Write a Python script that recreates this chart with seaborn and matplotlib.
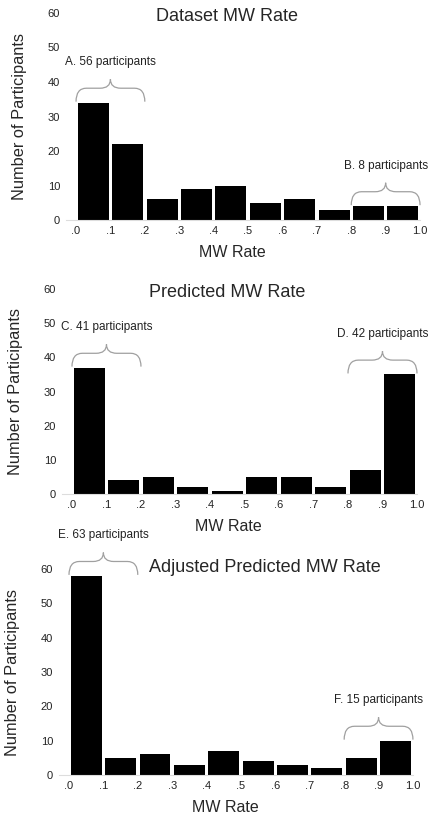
import numpy as np
import matplotlib
matplotlib.use("Agg")
import matplotlib.pyplot as plt
from matplotlib.path import Path
from matplotlib.patches import PathPatch
import seaborn as sns

# MW rate bins (midpoints) and edges
rate_bins = [0.05, 0.15, 0.25, 0.35, 0.45, 0.55, 0.65, 0.75, 0.85, 0.95]
bin_edges = [0.0, 0.1, 0.2, 0.3, 0.4, 0.5, 0.6, 0.7, 0.8, 0.9, 1.0]
tick_labels = [".0", ".1", ".2", ".3", ".4", ".5", ".6", ".7", ".8", ".9", "1.0"]

# number of participants per bin
dataset_counts = [34, 22, 6, 9, 10, 5, 6, 3, 4, 4]
predicted_counts = [37, 4, 5, 2, 1, 5, 5, 2, 7, 35]
adjusted_counts = [58, 5, 6, 3, 7, 4, 3, 2, 5, 10]

titles = ["Dataset MW Rate", "Predicted MW Rate", "Adjusted Predicted MW Rate"]
brace_letters = [("A", "B"), ("C", "D"), ("E", "F")]

sns.set_style("white")
plt.rcParams["font.family"] = ["Liberation Sans", "DejaVu Sans"]

fig = plt.figure(figsize=(4.34, 8.17), dpi=100)
axes_pos = [
    [0.1514, 0.7307, 0.8164, 0.2534],
    [0.1420, 0.3953, 0.8188, 0.2509],
    [0.1352, 0.0514, 0.8163, 0.2521],
]
title_pos = [(0.44, 59), (0.45, 59), (0.57, 60.5)]


def draw_brace(ax, x0, x1, yb, height=6.5, r=0.03, color="#a0a0a0"):
    # horizontal curly brace, tip pointing up
    xm = (x0 + x1) / 2
    yh = yb + height * 0.6
    yt = yb + height
    verts = [
        (x0, yb), (x0, yh), (x0 + r, yh),
        (xm - r, yh),
        (xm, yh), (xm, yt),
        (xm, yh), (xm + r, yh),
        (x1 - r, yh),
        (x1, yh), (x1, yb),
    ]
    codes = [Path.MOVETO, Path.CURVE3, Path.CURVE3,
             Path.LINETO,
             Path.CURVE3, Path.CURVE3,
             Path.CURVE3, Path.CURVE3,
             Path.LINETO,
             Path.CURVE3, Path.CURVE3]
    patch = PathPatch(Path(verts, codes), fill=False, edgecolor=color,
                      linewidth=0.9, clip_on=False)
    ax.add_patch(patch)
    return yt


all_counts = [dataset_counts, predicted_counts, adjusted_counts]
for i, counts in enumerate(all_counts):
    ax = fig.add_axes(axes_pos[i])
    sns.histplot(x=rate_bins, weights=counts, bins=bin_edges, shrink=0.9,
                 color="black", alpha=1, linewidth=0, ax=ax)
    ax.set_xlim(-0.03, 1.0)
    ax.set_ylim(0, 60)
    ax.set_xticks(bin_edges)
    ax.set_xticklabels(tick_labels)
    ax.set_yticks([0, 10, 20, 30, 40, 50, 60])
    ax.tick_params(length=0, labelsize=8, colors="#222222")
    ax.tick_params(axis="x", pad=4.5)
    ax.tick_params(axis="y", pad=4)
    for s in ["top", "right", "left"]:
        ax.spines[s].set_visible(False)
    ax.spines["bottom"].set_color("#dddddd")
    ax.spines["bottom"].set_linewidth(0.8)
    ax.set_facecolor("white")

    ax.set_xlabel("MW Rate", fontsize=11.5)
    ax.xaxis.set_label_coords(0.47, -0.12)
    ax.set_ylabel("Number of Participants", fontsize=11.8)
    ax.yaxis.set_label_coords(-0.108, 0.5)

    tx, ty = title_pos[i]
    ax.text(tx, ty, titles[i], fontsize=13, ha="center", va="center")

    # braces over the low and high ends
    low, high = brace_letters[i]
    groups = [(low, 0, 2), (high, 8, 10)]
    for letter, a, b in groups:
        n = sum(counts[a:b])
        top = draw_brace(ax, bin_edges[a], bin_edges[b], max(counts[a:b]) + 0.3)
        ax.text((bin_edges[a] + bin_edges[b]) / 2, top + 5,
                f"{letter}. {n} participants", fontsize=8.5, ha="center",
                va="center", color="#222222", clip_on=False)

plt.savefig("out.png", dpi=100)
